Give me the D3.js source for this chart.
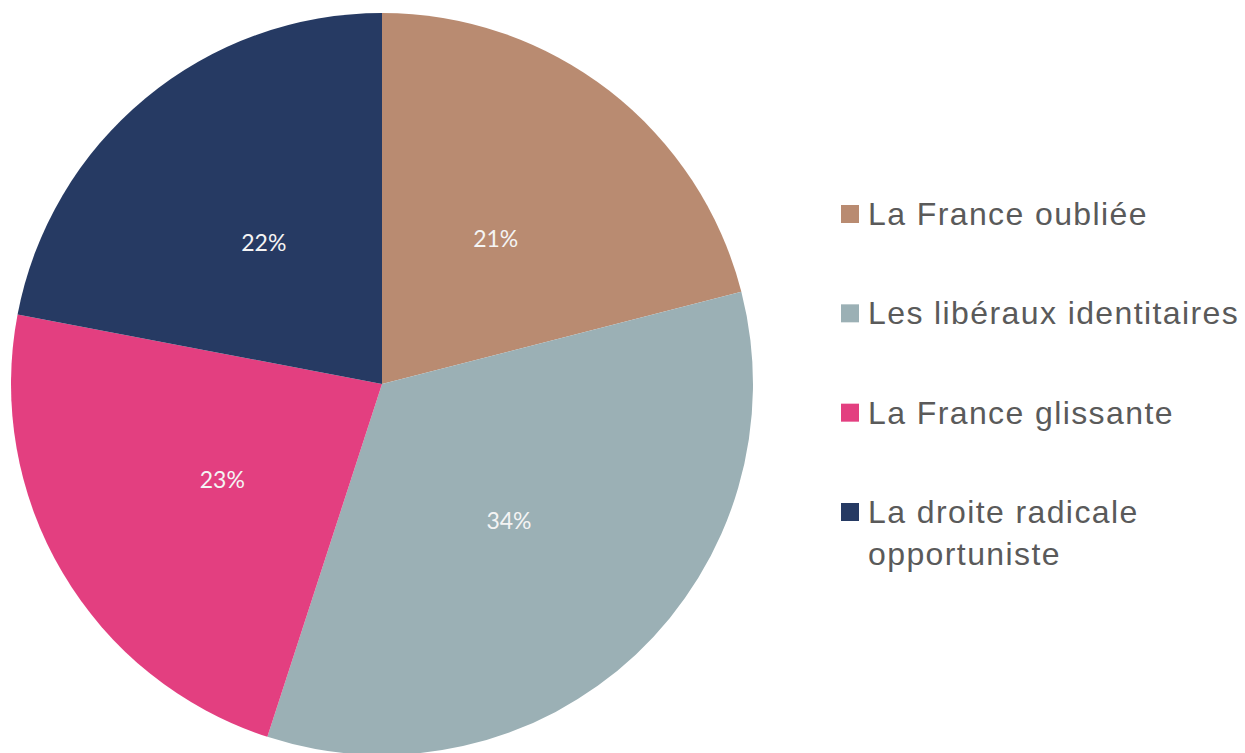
<!DOCTYPE html>
<html>
<head>
<meta charset="utf-8">
<script src="https://cdn.jsdelivr.net/npm/d3@7"></script>
<style>
  body { margin: 0; background: #fff; }
</style>
</head>
<body>
<div id="chart"></div>
<script>
// data
const categories = ["La France oubliée", "Les libéraux identitaires", "La France glissante", "La droite radicale opportuniste"];
const shares = [21, 34, 23, 22];
const colors = ["#b98b71", "#9bb0b5", "#e33f80", "#263a63"];
const legendLines = [["La France oubliée"], ["Les libéraux identitaires"], ["La France glissante"], ["La droite radicale", "opportuniste"]];

const W = 1245, H = 753;
const cx = 382, cy = 384, R = 371;

const svg = d3.select("#chart").append("svg")
  .attr("width", W)
  .attr("height", H);

const data = categories.map((c, i) => ({ name: c, value: shares[i], color: colors[i], lines: legendLines[i] }));

const pie = d3.pie().value(d => d.value).sort(null);
const arc = d3.arc().innerRadius(0).outerRadius(R);
const labelArc = d3.arc().innerRadius(R / 2).outerRadius(R / 2);

const g = svg.append("g").attr("transform", "translate(" + cx + "," + cy + ")");
const arcs = pie(data);

g.selectAll("path.slice")
  .data(arcs)
  .enter().append("path")
  .attr("class", "slice")
  .attr("d", arc)
  .attr("fill", d => d.data.color);

g.selectAll("text.pct")
  .data(arcs)
  .enter().append("text")
  .attr("class", "pct")
  .attr("transform", d => "translate(" + labelArc.centroid(d) + ")")
  .attr("text-anchor", "middle")
  .attr("dy", "0.42em")
  .style("font-family", "Lato, 'Open Sans', sans-serif")
  .style("font-size", "23px")
  .style("fill", "#f4f4f4")
  .text(d => d.data.value + "%");

// legend
const legend = svg.append("g").attr("transform", "translate(841,0)");
const rowY = d3.scaleLinear().domain([0, 3]).range([225, 523]);

const rows = legend.selectAll("g.row")
  .data(data)
  .enter().append("g")
  .attr("class", "row")
  .attr("transform", (d, i) => "translate(0," + rowY(i) + ")");

rows.append("rect")
  .attr("x", 0)
  .attr("y", -20)
  .attr("width", 18)
  .attr("height", 18)
  .attr("fill", d => d.color);

rows.append("text")
  .attr("x", 27)
  .style("font-family", "'Liberation Sans', Arial, sans-serif")
  .style("font-size", "32px")
  .style("letter-spacing", "1.4px")
  .style("fill", "#5a5a5a")
  .selectAll("tspan")
  .data(d => d.lines)
  .enter().append("tspan")
  .attr("x", 27)
  .attr("y", (d, i) => i * 42)
  .text(d => d);
</script>
</body>
</html>
